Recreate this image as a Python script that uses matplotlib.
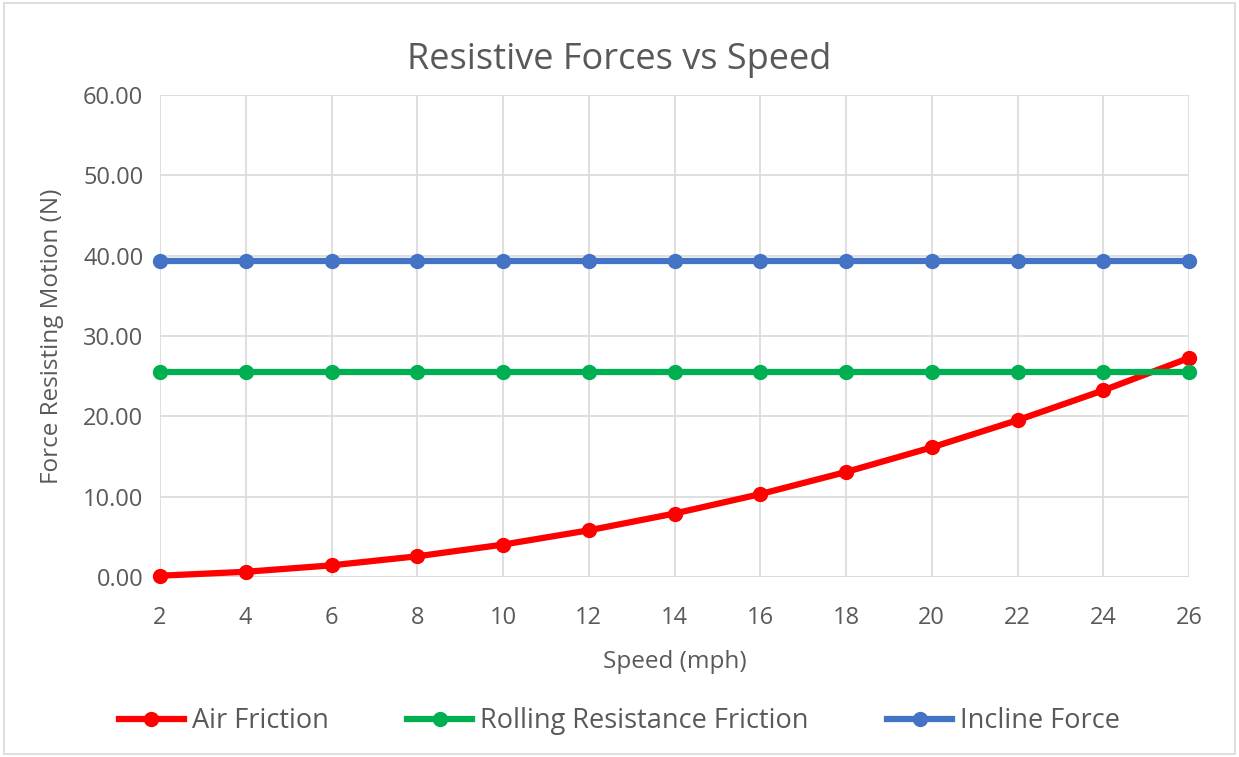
import matplotlib.pyplot as plt

plt.rcParams['font.family'] = ['Open Sans', 'DejaVu Sans']

speed = [2, 4, 6, 8, 10, 12, 14, 16, 18, 20, 22, 24, 26]
air_friction = [0.16, 0.65, 1.45, 2.58, 4.03, 5.81, 7.90, 10.32, 13.07, 16.13, 19.52, 23.23, 27.26]
rolling = [25.55] * 13
incline = [39.30] * 13

text_col = "#595959"
grid_col = "#D9D9D9"

fig = plt.figure(figsize=(12.39, 7.57), dpi=100)
ax = fig.add_axes([160 / 1239, 1 - 577 / 757, (1189 - 160) / 1239, (577 - 95) / 757])

ax.plot(speed, air_friction, color="#FF0000", lw=4.5, marker="o", ms=10, label="Air Friction", zorder=3, clip_on=False)
ax.plot(speed, rolling, color="#00B050", lw=4.5, marker="o", ms=10, label="Rolling Resistance Friction", zorder=3, clip_on=False)
ax.plot(speed, incline, color="#4472C4", lw=4.5, marker="o", ms=10, label="Incline Force", zorder=3, clip_on=False)

ax.set_xlim(2, 26)
ax.set_ylim(0, 60)
ax.set_xticks(speed)
ax.set_yticks(range(0, 61, 10))
ax.set_yticklabels(["%.2f" % v for v in range(0, 61, 10)])
ax.grid(True, color=grid_col, lw=1.2)
ax.set_axisbelow(True)
for s in ax.spines.values():
    s.set_visible(False)
ax.axhline(0, color=grid_col, lw=1.2, zorder=1)
ax.tick_params(length=0, labelsize=17, colors=text_col)
ax.tick_params(axis='x', pad=21)
ax.tick_params(axis='y', pad=12)

ax.set_xlabel("Speed (mph)", fontsize=17.5, color=text_col, labelpad=14)
ax.set_ylabel("Force Resisting Motion (N)", fontsize=17.5, color=text_col, labelpad=14)
fig.text(0.5, 1 - 60 / 757, "Resistive Forces vs Speed", ha="center", va="center", fontsize=26, color=text_col)

fig.legend(loc="center", bbox_to_anchor=(0.5, 1 - 721 / 757), ncol=3, frameon=False,
           fontsize=19.5, labelcolor=text_col, handlelength=2.4, columnspacing=2.9, handletextpad=0.3)

border = plt.Rectangle((0.003, 0.004), 0.994, 0.992, transform=fig.transFigure, fill=False,
                       edgecolor=grid_col, lw=1.2)
fig.patches.append(border)

fig.savefig("out.png", dpi=100)
